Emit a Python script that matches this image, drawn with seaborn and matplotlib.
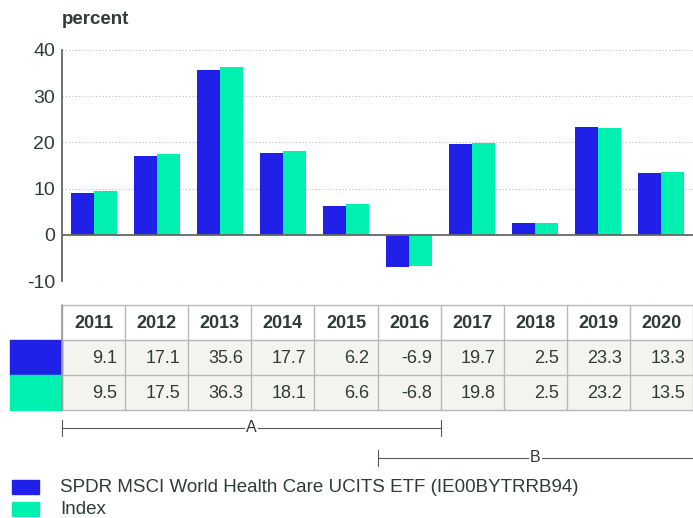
import matplotlib
matplotlib.use("Agg")
import matplotlib.pyplot as plt
import seaborn as sns
import pandas as pd
from matplotlib.patches import Rectangle

years = ["2011", "2012", "2013", "2014", "2015", "2016", "2017", "2018", "2019", "2020"]
fund = [9.1, 17.1, 35.6, 17.7, 6.2, -6.9, 19.7, 2.5, 23.3, 13.3]
index = [9.5, 17.5, 36.3, 18.1, 6.6, -6.8, 19.8, 2.5, 23.2, 13.5]
series_names = ["SPDR MSCI World Health Care UCITS ETF (IE00BYTRRB94)", "Index"]
colors = ["#2020e8", "#00f0b0"]
y_ticks = [-10, 0, 10, 20, 30, 40]
# periods A and B: index of first and last year covered
periods = [("A", 0, 5), ("B", 5, 9)]

txt = "#2f3b35"
sns.set_theme(style="white")
plt.rcParams["font.family"] = ["Liberation Sans", "DejaVu Sans"]
plt.rcParams["axes.unicode_minus"] = False

df = pd.DataFrame({
    "year": years * 2,
    "value": fund + index,
    "series": [series_names[0]] * len(years) + [series_names[1]] * len(years),
})

W, H = 693, 518
fig = plt.figure(figsize=(W / 100, H / 100), dpi=100)
ax = fig.add_axes([62 / W, 1 - 281 / H, (W - 62) / W, 231 / H])
sns.barplot(data=df, x="year", y="value", hue="series", palette=colors,
            saturation=1, width=0.73, gap=0, edgecolor="none", linewidth=0,
            ax=ax, legend=False)
ax.set_xlim(-0.5, len(years) - 0.5)
ax.set_ylim(-10, 40)
ax.set_yticks(y_ticks)
ax.set_xticks([])
ax.set_xlabel("")
ax.set_ylabel("")
for t in y_ticks:
    if t != 0:
        ax.axhline(t, color="#bbbbbb", lw=0.8, ls=(0, (1, 2)), zorder=0)
ax.axhline(0, color="#666666", lw=1.3, zorder=3)
for s in ["top", "right", "bottom"]:
    ax.spines[s].set_visible(False)
ax.spines["left"].set_color("#666666")
ax.spines["left"].set_linewidth(1.3)
ax.tick_params(axis="y", length=0, pad=5, labelsize=14, labelcolor=txt)
fig.text(62 / W, 1 - 20 / H, "percent", fontsize=13.5, fontweight="bold",
         color=txt, va="center", ha="left")

# overlay in pixel coordinates for table, brackets and legend
ov = fig.add_axes([0, 0, 1, 1])
ov.set_xlim(0, W)
ov.set_ylim(H, 0)
ov.axis("off")

fig.canvas.draw()
def px(i):
    return ax.transData.transform((i, 0))[0]

edges = [px(i - 0.5) for i in range(len(years) + 1)]
row_y = [305, 340, 375, 410]
line_c = "#b8b8b8"
# cell backgrounds
for r in (1, 2):
    ov.add_patch(Rectangle((edges[0], row_y[r]), edges[-1] - edges[0],
                           row_y[r + 1] - row_y[r], color="#f3f3ef", zorder=1))
# colour swatches
for r, c in zip((1, 2), colors):
    ov.add_patch(Rectangle((10, row_y[r]), edges[0] - 10, row_y[r + 1] - row_y[r],
                           color=c, zorder=2))
# grid lines
for y in row_y:
    ov.plot([edges[0], edges[-1]], [y, y], color=line_c, lw=1, zorder=3)
for x in edges:
    ov.plot([x, x], [row_y[0], row_y[-1]], color=line_c, lw=1, zorder=3)
ov.plot([edges[0], edges[0]], [row_y[0], row_y[-1]], color="#999999", lw=1.2, zorder=3)

for i, yr in enumerate(years):
    cx = (edges[i] + edges[i + 1]) / 2
    ov.text(cx, (row_y[0] + row_y[1]) / 2 + 1, yr, ha="center", va="center",
            fontsize=13, fontweight="bold", color=txt, zorder=4)
    for r, vals in zip((1, 2), (fund, index)):
        ov.text(edges[i + 1] - 8, (row_y[r] + row_y[r + 1]) / 2 + 1, f"{vals[i]:.1f}",
                ha="right", va="center", fontsize=13, color=txt, zorder=4)

# period brackets
for k, (lab, a, b) in enumerate(periods):
    y = 428 + 30 * k
    x0 = edges[a]
    x1 = edges[b + 1]
    ov.plot([x0, x1], [y, y], color="#555555", lw=0.8)
    ov.plot([x0, x0], [y - 8, y + 8], color="#555555", lw=0.8)
    if b + 1 < len(edges) - 1:
        ov.plot([x1, x1], [y - 8, y + 8], color="#555555", lw=0.8)
    ov.text((x0 + x1) / 2, y, lab, ha="center", va="center", fontsize=11.5,
            color=txt, bbox=dict(facecolor="white", edgecolor="none", pad=1))

# legend
for k, (name, c) in enumerate(zip(series_names, colors)):
    y = 487 + 22 * k
    ov.add_patch(Rectangle((12, y - 7), 27, 14, color=c))
    ov.text(60, y, name, ha="left", va="center", fontsize=13.5, color=txt)

fig.savefig("out.png", dpi=100)
